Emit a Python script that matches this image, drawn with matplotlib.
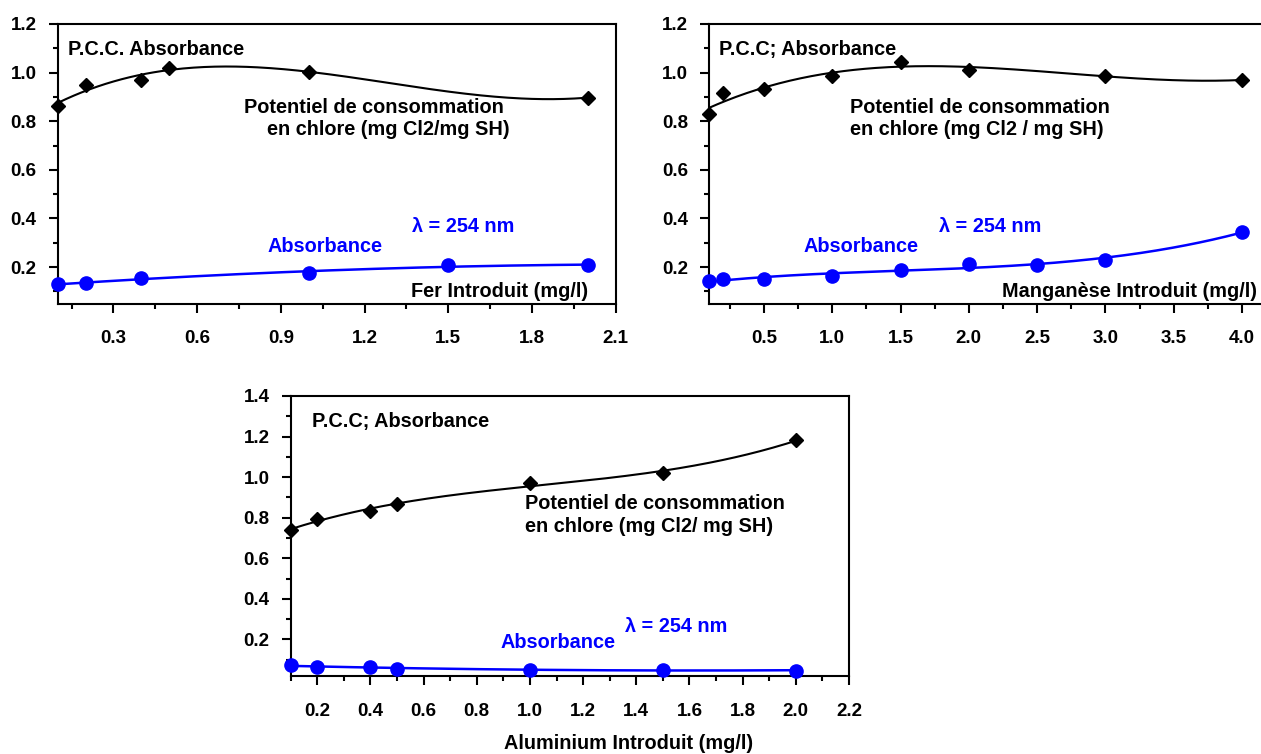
import matplotlib
matplotlib.use("Agg")
import matplotlib.pyplot as plt
from matplotlib.ticker import MultipleLocator, FixedLocator
import numpy as np

plt.rcParams['font.family'] = ['Liberation Sans', 'DejaVu Sans']
plt.rcParams['font.weight'] = 'bold'

W, H = 1261, 754

# Fer
fer_pcc_x = [0.1, 0.2, 0.4, 0.5, 1.0, 2.0]
fer_pcc_y = [0.863, 0.949, 0.970, 1.020, 1.004, 0.897]
fer_abs_x = [0.1, 0.2, 0.4, 1.0, 1.5, 2.0]
fer_abs_y = [0.129, 0.135, 0.153, 0.177, 0.207, 0.208]

# Manganese
mn_pcc_x = [0.1, 0.2, 0.5, 1.0, 1.5, 2.0, 3.0, 4.0]
mn_pcc_y = [0.829, 0.915, 0.933, 0.986, 1.044, 1.011, 0.988, 0.969]
mn_abs_x = [0.1, 0.2, 0.5, 1.0, 1.5, 2.0, 2.5, 3.0, 4.0]
mn_abs_y = [0.142, 0.149, 0.152, 0.165, 0.186, 0.214, 0.209, 0.229, 0.345]

# Aluminium
al_pcc_x = [0.1, 0.2, 0.4, 0.5, 1.0, 1.5, 2.0]
al_pcc_y = [0.742, 0.795, 0.831, 0.866, 0.971, 1.021, 1.182]
al_abs_x = [0.1, 0.2, 0.4, 0.5, 1.0, 1.5, 2.0]
al_abs_y = [0.075, 0.063, 0.063, 0.055, 0.052, 0.050, 0.047]

fer_xticks = [0.3, 0.6, 0.9, 1.2, 1.5, 1.8, 2.1]
mn_xticks = [0.5, 1.0, 1.5, 2.0, 2.5, 3.0, 3.5, 4.0]
al_xticks = [0.2, 0.4, 0.6, 0.8, 1.0, 1.2, 1.4, 1.6, 1.8, 2.0, 2.2]
y12_ticks = [0.2, 0.4, 0.6, 0.8, 1.0, 1.2]
y14_ticks = [0.2, 0.4, 0.6, 0.8, 1.0, 1.2, 1.4]

BLUE = '#0000ff'


def box(l, t, r, b):
    return [l / W, 1 - b / H, (r - l) / W, (b - t) / H]


def ftext(x, y, s, color='black', size=14.3):
    # x = left edge, y = baseline, in pixels
    fig.text(x / W, 1 - y / H, s, color=color, fontsize=size,
             fontweight='bold', ha='left', va='baseline')


def fit_curve(ax, x, y, deg, color, lw):
    c = np.polyfit(x, y, deg)
    xs = np.linspace(min(x), max(x), 200)
    ax.plot(xs, np.polyval(c, xs), '-', color=color, linewidth=lw,
            zorder=2, clip_on=False)


def style_axes(ax, xlim, ylim, xticks, xminor, yticks):
    ax.set_xlim(*xlim)
    ax.set_ylim(*ylim)
    ax.xaxis.set_major_locator(FixedLocator(xticks))
    ax.xaxis.set_minor_locator(MultipleLocator(xminor))
    ax.yaxis.set_major_locator(FixedLocator(yticks))
    ax.yaxis.set_minor_locator(MultipleLocator(0.1))
    ax.xaxis.set_major_formatter(plt.FuncFormatter(lambda v, p: f'{v:.1f}'))
    ax.yaxis.set_major_formatter(plt.FuncFormatter(lambda v, p: f'{v:.1f}'))
    ax.tick_params(which='major', direction='out', length=6.8, width=1.5,
                   labelsize=13.5)
    ax.tick_params(which='minor', direction='out', length=3.5, width=1.5)
    ax.tick_params(axis='x', which='major', pad=12.5)
    ax.tick_params(axis='y', which='major', pad=8.3)
    for lab in ax.get_xticklabels() + ax.get_yticklabels():
        lab.set_fontweight('bold')
    for sp in ax.spines.values():
        sp.set_linewidth(1.5)


def draw_series(ax, px, py, ax_, ay, deg_p, deg_a):
    fit_curve(ax, px, py, deg_p, 'black', 1.5)
    fit_curve(ax, ax_, ay, deg_a, BLUE, 1.8)
    ax.plot(px, py, 'D', color='black', markersize=7, zorder=3, clip_on=False)
    ax.plot(ax_, ay, 'o', color=BLUE, markersize=9.5, zorder=3, clip_on=False)


fig = plt.figure(figsize=(W / 100, H / 100), dpi=100)

ax1 = fig.add_axes(box(57.7, 24, 615.7, 303.5))
ax2 = fig.add_axes(box(709.3, 24, 1269.4, 303.5))
ax3 = fig.add_axes(box(290.7, 396, 849, 676))

draw_series(ax1, fer_pcc_x, fer_pcc_y, fer_abs_x, fer_abs_y, 3, 2)
style_axes(ax1, (0.1, 2.1), (0.05, 1.2), fer_xticks, 0.15, y12_ticks)

draw_series(ax2, mn_pcc_x, mn_pcc_y, mn_abs_x, mn_abs_y, 3, 3)
style_axes(ax2, (0.1, 4.2), (0.05, 1.2), mn_xticks, 0.25, y12_ticks)

draw_series(ax3, al_pcc_x, al_pcc_y, al_abs_x, al_abs_y, 3, 2)
style_axes(ax3, (0.1, 2.2), (0.02, 1.4), al_xticks, 0.1, y14_ticks)

# panel 1 texts
ftext(68, 55, 'P.C.C. Absorbance')
ftext(244, 112.7, 'Potentiel de consommation')
ftext(267, 135, 'en chlore (mg Cl2/mg SH)')
ftext(412, 231.7, 'λ = 254 nm', BLUE)
ftext(267, 251.7, 'Absorbance', BLUE)
ftext(411, 297, 'Fer Introduit (mg/l)')

# panel 2 texts
ftext(719, 55, 'P.C.C; Absorbance')
ftext(849.5, 112.7, 'Potentiel de consommation')
ftext(849.5, 135, 'en chlore (mg Cl2 / mg SH)')
ftext(939, 231.7, 'λ = 254 nm', BLUE)
ftext(803, 251.7, 'Absorbance', BLUE)
ftext(1002, 297, 'Manganèse Introduit (mg/l)')

# panel 3 texts
ftext(312, 426.7, 'P.C.C; Absorbance')
ftext(525, 509.3, 'Potentiel de consommation')
ftext(525, 531.7, 'en chlore (mg Cl2/ mg SH)')
ftext(625, 631.7, 'λ = 254 nm', BLUE)
ftext(501, 647.7, 'Absorbance', BLUE)
ftext(504, 749, 'Aluminium Introduit (mg/l)')

fig.savefig('out.png', dpi=100)
